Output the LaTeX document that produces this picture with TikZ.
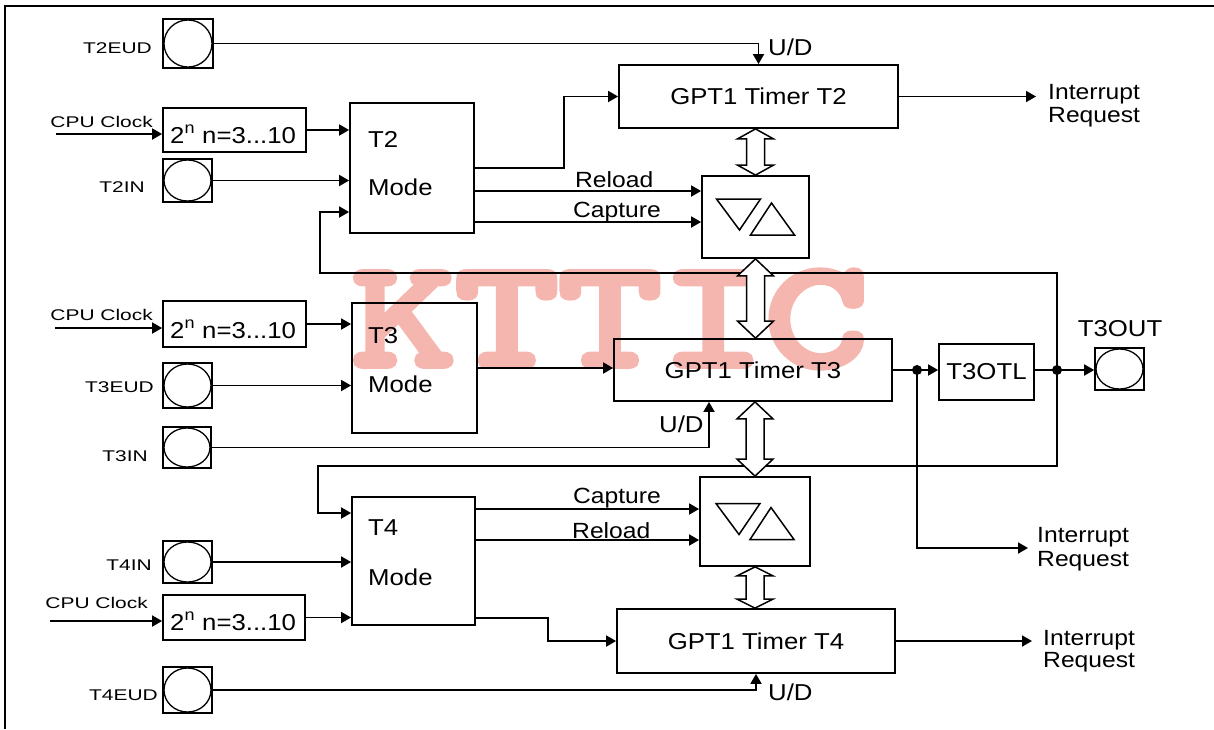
\documentclass[tikz,border=0pt]{standalone}
\usepackage{fontspec}
\setmainfont{Liberation Sans}[FakeStretch=1.12]
\newfontfamily\pinfont{Liberation Sans}[FakeStretch=1.35]
\newfontfamily\wmfont{lmmono10-regular.otf}[FakeBold=5.5,FakeStretch=1.31]
\usetikzlibrary{arrows.meta,calc}
\definecolor{wm}{RGB}{244,182,174}

\tikzset{
  lw/.style={line width=1.8pt},
  blk/.style={draw, lw, inner sep=0pt, font=\fontsize{23}{23}\selectfont},
  pinsq/.style={draw, line width=1.6pt, inner sep=0pt},
  sig/.style={lw, -{Triangle[length=10pt,width=11pt]}},
  wire/.style={lw},
  txt/.style={inner sep=0pt, anchor=base west, font=\fontsize{23}{23}\selectfont},
  lbl/.style={inner sep=0pt, anchor=base west, font=\fontsize{22}{22}\selectfont},
  pinlbl/.style={inner sep=0pt, anchor=base east, font=\pinfont\fontsize{15.5}{15.5}\selectfont},
  dblst/.style={draw, line width=1.5pt, fill=white, line join=miter},
  tri/.style={draw, line width=1.5pt, line join=miter},
}

\newcommand\pinbox[5]{%
  \node[pinsq, minimum width=#4pt, minimum height=#5pt] (#1) at (#2,#3) {};
  \draw[line width=1.3pt] (#1.center) ellipse [x radius={#4/2-1}, y radius={#5/2-1}];
}
\newcommand\dblarr[4]{%
  \draw[dblst] let \p1=(#1), \p2=(#2), \p3=(#3) in
    (\x1,\y2) -- (\x1+18pt,\y2-#4pt) -- (\x1+9pt,\y2-#4pt) -- (\x1+9pt,\y3+#4pt)
    -- (\x1+18pt,\y3+#4pt) -- (\x1,\y3) -- (\x1-18pt,\y3+#4pt) -- (\x1-9pt,\y3+#4pt)
    -- (\x1-9pt,\y2-#4pt) -- (\x1-18pt,\y2-#4pt) -- cycle;
}
\newcommand\cmptri[1]{%
  \draw[tri] ($(#1)+(-39,-18)$) -- ($(#1)+(5,-18)$) -- ($(#1)+(-16,13)$) -- cycle;
  \draw[tri] ($(#1)+(-5,18)$) -- ($(#1)+(39,18)$) -- ($(#1)+(16,-14)$) -- cycle;
}

\begin{document}
\begin{tikzpicture}[x=1pt,y=-1pt]
\useasboundingbox (0,0) rectangle (1214,729);

% watermark
\node[text=wm, inner sep=0pt, font=\wmfont\fontsize{150}{150}\selectfont] (wmk) at (610,319) {KTTIC};

% frame
\draw[line width=2pt] (5,729) -- (5,6) -- (1214,6);

% pins
\pinbox{p2eud}{188}{43.5}{50}{49}
\pinbox{p2in}{187.5}{180.5}{49}{43}
\pinbox{p3eud}{187.5}{385.5}{49}{45}
\pinbox{p3in}{187}{447.5}{48}{41}
\pinbox{p4in}{187.5}{562}{49}{42}
\pinbox{p4eud}{187.5}{690}{49}{46}
\pinbox{pout}{1119.5}{369}{49}{42}

\node[pinlbl] (l2eud) at (152,53) {T2EUD};
\node[pinlbl] (l2in) at (145,192) {T2IN};
\node[pinlbl] (l3eud) at (154,392) {T3EUD};
\node[pinlbl] (l3in) at (148,461) {T3IN};
\node[pinlbl] (l4in) at (152,570) {T4IN};
\node[pinlbl] (l4eud) at (158,700) {T4EUD};
\node[pinlbl] (lc2) at (153,127) {CPU Clock};
\node[pinlbl] (lc3) at (153,320) {CPU Clock};
\node[pinlbl] (lc4) at (148,608) {CPU Clock};
\node[txt, anchor=base] (lout) at (1120,336) {T3OUT};

% prescalers
\node[blk, minimum width=143pt, minimum height=44pt] (pre2) at (234.5,130) {};
\node[blk, minimum width=143pt, minimum height=46pt] (pre3) at (234.5,324) {};
\node[blk, minimum width=142pt, minimum height=45pt] (pre4) at (234,617.5) {};
\node[txt] (tp2) at (170,143) {2\textsuperscript{n} n=3...10};
\node[txt] (tp3) at (170,338) {2\textsuperscript{n} n=3...10};
\node[txt] (tp4) at (170,630) {2\textsuperscript{n} n=3...10};

% mode boxes
\node[blk, minimum width=124pt, minimum height=130pt] (m2) at (412,168) {};
\node[blk, minimum width=125pt, minimum height=130pt] (m3) at (414.5,368) {};
\node[blk, minimum width=123pt, minimum height=128pt] (m4) at (413.5,561) {};
\node[txt] (tm2a) at (368,147) {T2};
\node[txt] (tm2b) at (368,195) {Mode};
\node[txt] (tm3a) at (368,343) {T3};
\node[txt] (tm3b) at (368,392) {Mode};
\node[txt] (tm4a) at (368,535) {T4};
\node[txt] (tm4b) at (368,585) {Mode};

% timers
\node[blk, minimum width=279pt, minimum height=63pt] (t2) at (758.5,96.5) {GPT1 Timer T2};
\node[blk, minimum width=278pt, minimum height=62pt] (t3) at (753,370) {GPT1 Timer T3};
\node[blk, minimum width=278pt, minimum height=64pt] (t4) at (756,641) {GPT1 Timer T4};
\node[blk, minimum width=95pt, minimum height=56pt] (otl) at (986.5,372) {T3OTL};

% compare boxes
\node[blk, minimum width=107pt, minimum height=82pt] (cb2) at (755.5,217) {};
\node[blk, minimum width=110pt, minimum height=89pt] (cb4) at (755,521.5) {};
\cmptri{cb2}
\cmptri{cb4}

% helper coordinates
\coordinate (clk2) at (56,134);
\coordinate (clk3) at (55,328);
\coordinate (clk4) at (50,621);
\coordinate (r2) at (0,191);
\coordinate (c2) at (0,222);
\coordinate (c4) at (0,509);
\coordinate (r4) at (0,540);
\coordinate (m4o) at (0,618);
\coordinate (fbt) at (320,273);
\coordinate (fbb) at (318,466);
\coordinate (fbm2) at (0,212);
\coordinate (fbm4) at (0,513);
\coordinate (j1) at (917,370);
\coordinate (j2) at (1057,370);
\coordinate (ir2) at (1036,0);
\coordinate (ir3) at (1028,548);
\coordinate (ir4) at (1032,0);

% T2 connections
\draw[sig] (p2eud.east) -| (t2.north);
\node[txt] (ud2) at (768,55) {U/D};
\draw[sig] (clk2) -- (clk2 -| pre2.west);
\draw[sig] (pre2.east) -- (pre2.east -| m2.west);
\draw[sig] (p2in.east) -- (p2in.east -| m2.west);
\draw[sig] (m2.east) -- ++(89,0) |- (t2.west);
\draw[sig] (m2.east |- r2) -- (cb2.west |- r2);
\draw[sig] (m2.east |- c2) -- (cb2.west |- c2);
\node[lbl] (rl2) at (575,187) {Reload};
\node[lbl] (cp2) at (573,217) {Capture};
\draw[sig] (t2.east) -- (t2.east -| ir2);
\node[lbl] (ia2) at (1048,99) {Interrupt};
\node[lbl] (ib2) at (1048,122) {Request};

% feedback lines
\draw[sig] (j2) |- (fbt) |- (m2.west |- fbm2);
\draw[sig] (j2) |- (fbb) |- (m4.west |- fbm4);

% T3 connections
\draw[sig] (clk3) -- (clk3 -| pre3.west);
\draw[sig] (pre3.east) -- (pre3.east -| m3.west);
\draw[sig] (p3eud.east) -- (p3eud.east -| m3.west);
\draw[sig] (m3.east) -- (m3.east -| t3.west);
\draw[sig] (p3in.east) -| ([xshift=-44pt]t3.south);
\node[txt] (ud3) at (659,432) {U/D};
\draw[sig] (t3.east) -- (t3.east -| otl.west);
\draw[sig] (otl.east |- j2) -- (j2 -| pout.west);
\draw[sig] (j1) |- (ir3);
\fill (j1) circle (5pt);
\fill (j2) circle (5pt);
\node[lbl] (ia3) at (1037,542) {Interrupt};
\node[lbl] (ib3) at (1037,566) {Request};

% T4 connections
\draw[sig] (p4in.east) -- (p4in.east -| m4.west);
\draw[sig] (clk4) -- (clk4 -| pre4.west);
\draw[sig] (pre4.east) -- (pre4.east -| m4.west);
\draw[sig] (m4.east |- m4o) -- ++(72,0) |- (t4.west);
\draw[sig] (m4.east |- c4) -- (cb4.west |- c4);
\draw[sig] (m4.east |- r4) -- (cb4.west |- r4);
\node[lbl] (cp4) at (573,503) {Capture};
\node[lbl] (rl4) at (572,538) {Reload};
\draw[sig] (p4eud.east) -| (t4.south);
\node[txt] (ud4) at (768,700) {U/D};
\draw[sig] (t4.east) -- (t4.east -| ir4);
\node[lbl] (ia4) at (1043,645) {Interrupt};
\node[lbl] (ib4) at (1043,667) {Request};

% double arrows
\dblarr{cb2}{t2.south}{cb2.north}{10}
\dblarr{cb2}{cb2.south}{t3.north}{17}
\dblarr{cb4}{t3.south}{cb4.north}{17}
\dblarr{cb4}{cb4.south}{t4.north}{9}
\end{tikzpicture}
\end{document}
